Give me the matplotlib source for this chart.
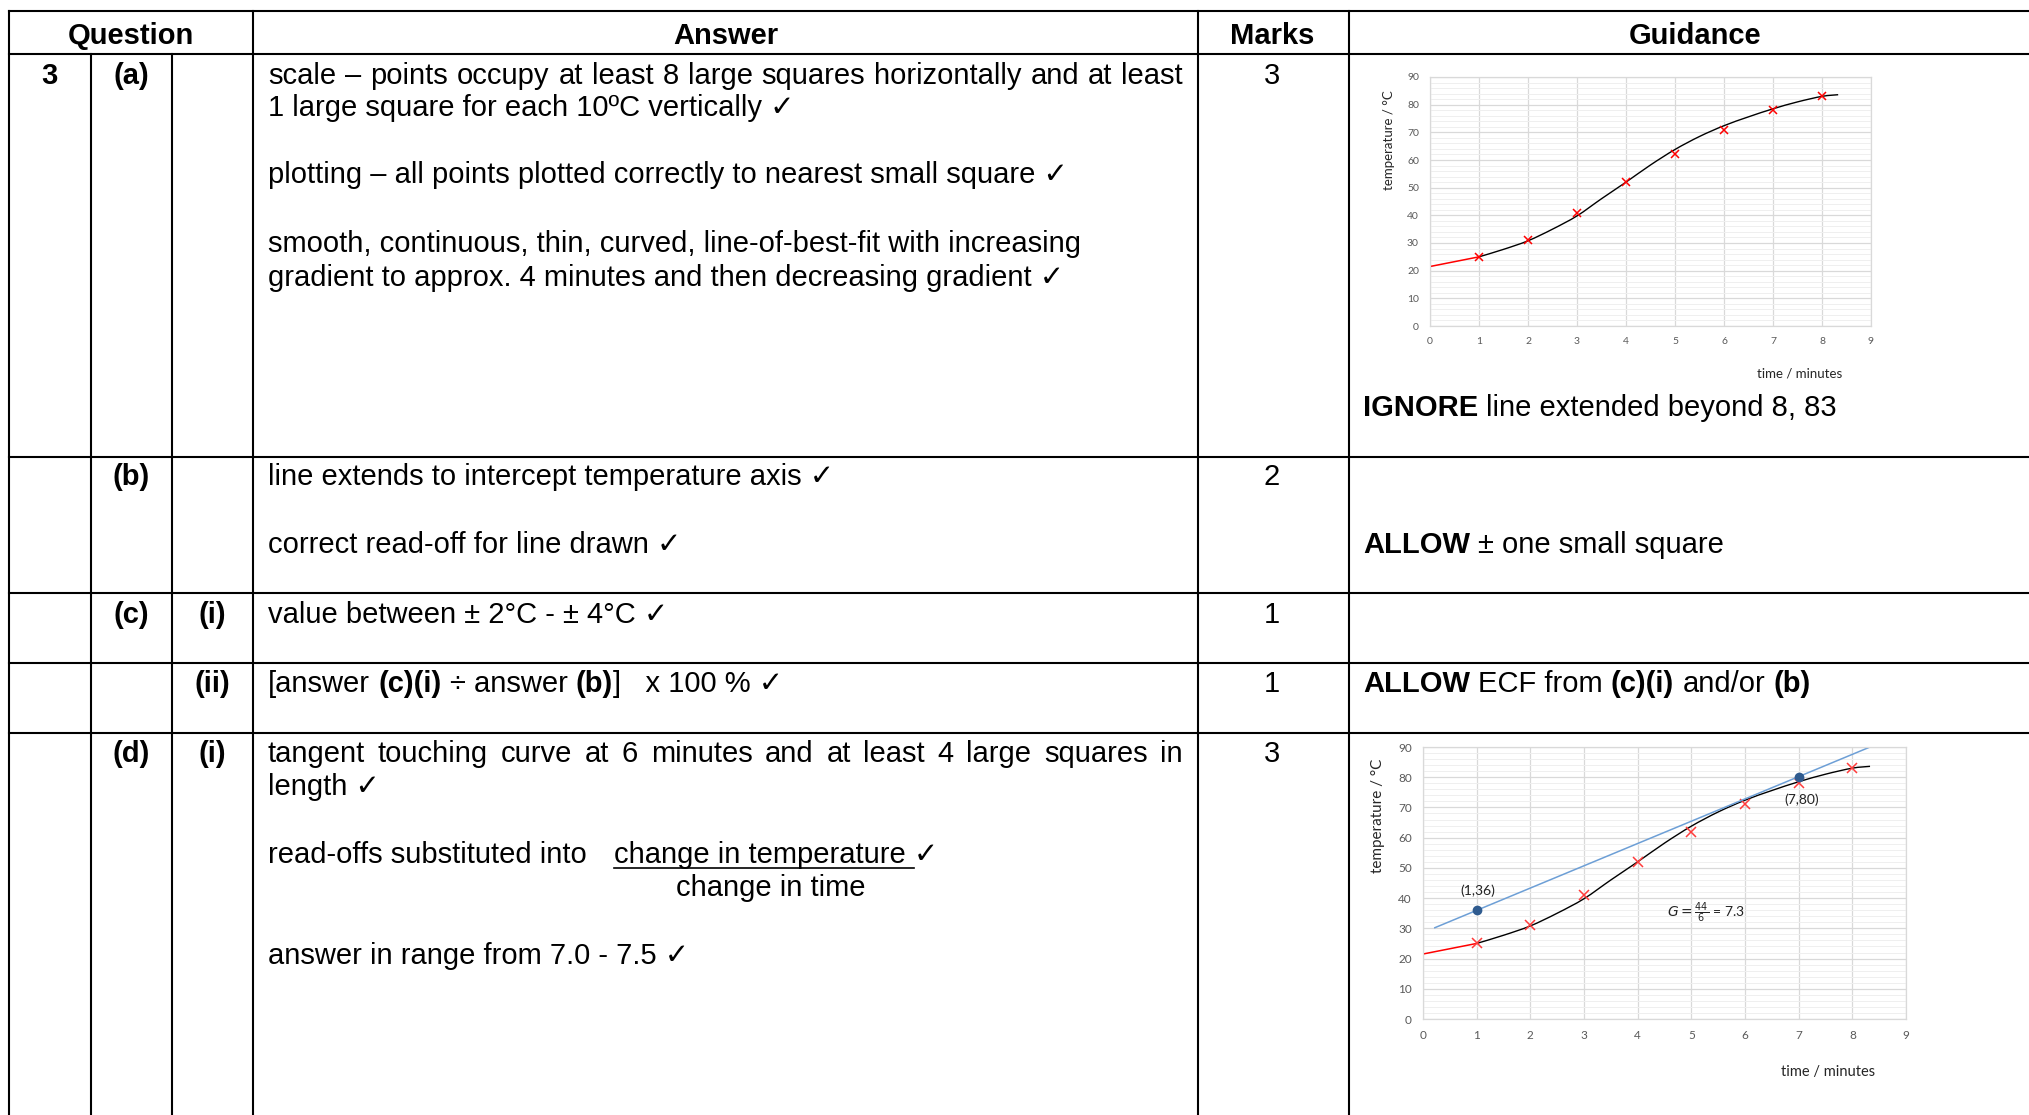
import numpy as np
import matplotlib
matplotlib.use('Agg')
import matplotlib.pyplot as plt
from matplotlib.path import Path
from matplotlib.patches import PathPatch
from matplotlib.lines import Line2D

# data
times = [1, 2, 3, 4, 5, 6, 7, 8]
temps = [25, 31, 41, 52, 62, 71, 78, 83]
fit_t = [1, 1.5, 2, 2.5, 3, 3.5, 4, 4.5, 5, 5.5, 6, 6.5, 7, 7.5, 8, 8.33]
fit_T = [25, 27.7, 30.8, 35.0, 39.8, 46.0, 52.0, 58.2, 63.8, 68.5, 72.4, 75.6, 78.5, 81.0, 83.0, 83.6]
ext_t = [0, 1]
ext_T = [21.5, 25]
tan_t = [0.22, 8.33]
tan_T = [30.2, 90]
read_t = [1, 7]
read_T = [36, 80]
read_lbl = ['(1,36)', '(7,80)']

W, H = 2029, 1115
FAM = ['Liberation Sans', 'DejaVu Sans']
CFAM = ['Lato', 'DejaVu Sans']
FS = 21
DY = 2  # small shift of all text baselines

fig = plt.figure(figsize=(W / 100, H / 100), dpi=100)
R = fig.canvas.get_renderer()


def fx(x):
    return x / W


def fy(y):
    return 1 - y / H


def hline(y, x0=9, x1=W):
    fig.add_artist(Line2D([fx(x0), fx(x1)], [fy(y), fy(y)], color='black', lw=1.5))


def vline(x, y0, y1=H):
    fig.add_artist(Line2D([fx(x), fx(x)], [fy(y0), fy(y1)], color='black', lw=1.5))


def txt(x, y, s, bold=False, ha='left', size=FS):
    return fig.text(fx(x), fy(y + DY), s, fontsize=size, family=FAM, ha=ha, va='baseline',
                    fontweight='bold' if bold else 'normal')


def width(s, bold=False, size=FS):
    t = txt(0, 0, s, bold, size=size)
    w = t.get_window_extent(renderer=R).width
    t.remove()
    return w


SP = width('x x') - width('xx')


def run(x, y, parts):
    for s, b in parts:
        x += (len(s) - len(s.lstrip(' '))) * SP
        core = s.strip(' ')
        t = txt(x, y, core, b)
        x += t.get_window_extent(renderer=R).width
        x += (len(s) - len(s.rstrip(' '))) * SP
    return x


def justify(x0, x1, y, line):
    words = line.split()
    ws = [width(w) for w in words]
    gap = (x1 - x0 - sum(ws)) / (len(words) - 1)
    x = x0
    for w, wd in zip(words, ws):
        txt(x, y, w)
        x += wd + gap


# table grid
for y in [11, 54, 457, 593, 663, 733]:
    hline(y)
vline(9, 11)
vline(91, 54)
vline(172, 54)
vline(253, 11)
vline(1198, 11)
vline(1349, 11)

# header
txt(131, 42, 'Question', True, 'center')
txt(726, 42, 'Answer', True, 'center')
txt(1272, 42, 'Marks', True, 'center')
txt(1695, 42, 'Guidance', True, 'center')

# question column
txt(49, 82, '3', True, 'center')
txt(131, 82, '(a)', True, 'center')
txt(131, 483, '(b)', True, 'center')
txt(131, 621, '(c)', True, 'center')
txt(212, 621, '(i)', True, 'center')
txt(212, 690, '(ii)', True, 'center')
txt(131, 760, '(d)', True, 'center')
txt(212, 760, '(i)', True, 'center')

# marks
for y, m in [(82, '3'), (483, '2'), (621, '1'), (690, '1'), (760, '3')]:
    txt(1272, y, m, ha='center')

# answers
justify(268, 1183, 82, 'scale – points occupy at least 8 large squares horizontally and at least')
txt(268, 114, '1 large square for each 10ºC vertically ✓')
txt(268, 181, 'plotting – all points plotted correctly to nearest small square ✓')
txt(268, 250, 'smooth, continuous, thin, curved, line-of-best-fit with increasing')
txt(268, 284, 'gradient to approx. 4 minutes and then decreasing gradient ✓')
txt(268, 483, 'line extends to intercept temperature axis ✓')
txt(268, 551, 'correct read-off for line drawn ✓')
txt(268, 621, 'value between ± 2°C - ± 4°C ✓')
run(268, 690, [('[answer ', False), ('(c)(i)', True), (' ÷ answer ', False), ('(b)', True),
               (']   x 100 % ✓', False)])
justify(268, 1183, 760, 'tangent touching curve at 6 minutes and at least 4 large squares in')
txt(268, 793, 'length ✓')
txt(268, 861, 'read-offs substituted into')
txt(614, 861, 'change in temperature ✓')
uw = width('change in temperature') + SP
fig.add_artist(Line2D([fx(614), fx(614 + uw)], [fy(868), fy(868)], color='black', lw=1.2))
txt(771, 894, 'change in time', ha='center')
txt(268, 962, 'answer in range from 7.0 - 7.5 ✓')

# guidance
run(1363, 414, [('IGNORE', True), (' line extended beyond 8, 83', False)])
run(1363, 551, [('ALLOW', True), (' ± one small square', False)])
run(1363, 690, [('ALLOW', True), (' ECF from ', False), ('(c)(i)', True), (' and/or ', False), ('(b)', True)])


def smooth_path(xs, ys):
    p = np.column_stack([xs, ys]).astype(float)
    verts = [p[0]]
    codes = [Path.MOVETO]
    for i in range(len(p) - 1):
        p0 = p[max(i - 1, 0)]
        p1, p2 = p[i], p[i + 1]
        p3 = p[min(i + 2, len(p) - 1)]
        verts += [p1 + (p2 - p0) / 6, p2 - (p3 - p1) / 6, p2]
        codes += [Path.CURVE4] * 3
    return Path(verts, codes)


def graph(ax, fs, ms, cross_col):
    ax.set_xlim(0, 9)
    ax.set_ylim(0, 90)
    ax.set_xticks(range(0, 10))
    ax.set_yticks(range(0, 91, 10))
    ax.set_yticks(range(0, 91, 2), minor=True)
    ax.grid(which='major', color='#d9d9d9', lw=0.9)
    ax.grid(which='minor', axis='y', color='#efefef', lw=0.7)
    ax.set_axisbelow(True)
    ax.tick_params(which='both', length=0, pad=8, labelsize=fs, labelcolor='#595959')
    for lab in ax.get_xticklabels() + ax.get_yticklabels():
        lab.set_family(CFAM)
    for sp in ax.spines.values():
        sp.set_color('#d9d9d9')
        sp.set_linewidth(0.9)
    ax.plot(ext_t, ext_T, color='#ff0000', lw=1.1)
    ax.add_patch(PathPatch(smooth_path(fit_t, fit_T), fill=False, color='black', lw=1.0))
    ax.plot(times, temps, 'x', color=cross_col, ms=ms, mew=1.1)


ax1 = fig.add_axes([fx(1430), fy(326), (1871 - 1430) / W, (326 - 77) / H])
graph(ax1, 7.5, 5.5, '#ff0000')
fig.text(fx(1800), fy(373), 'time / minutes', fontsize=9.5, family=CFAM, ha='center', va='center',
         color='#262626')
fig.text(fx(1389), fy(140), 'temperature / °C', fontsize=9.5, family=CFAM, ha='center', va='center',
         rotation=90, color='#262626')

ax2 = fig.add_axes([fx(1423), fy(1019), (1906 - 1423) / W, (1019 - 747) / H])
graph(ax2, 8.5, 6.5, '#ff3b3b')
ax2.plot(tan_t, tan_T, color='#6d9fd6', lw=1.1)
ax2.plot(read_t, read_T, 'o', color='#2f5b8f', ms=6)
ax2.text(1.02, 42.3, read_lbl[0], fontsize=10, family=CFAM, ha='center', va='center', color='#222222')
ax2.text(7.06, 72.6, read_lbl[1], fontsize=10, family=CFAM, ha='center', va='center', color='#222222')
ax2.text(5.27, 35.2, r'$G = \frac{44}{6}$ = 7.3', fontsize=10, family=CFAM, ha='center', va='center',
         color='#222222')
fig.text(fx(1828), fy(1072), 'time / minutes', fontsize=10.5, family=CFAM, ha='center', va='center',
         color='#262626')
fig.text(fx(1378), fy(816), 'temperature / °C', fontsize=11, family=CFAM, ha='center', va='center',
         rotation=90, color='#262626')

fig.savefig('out.png', dpi=100)
